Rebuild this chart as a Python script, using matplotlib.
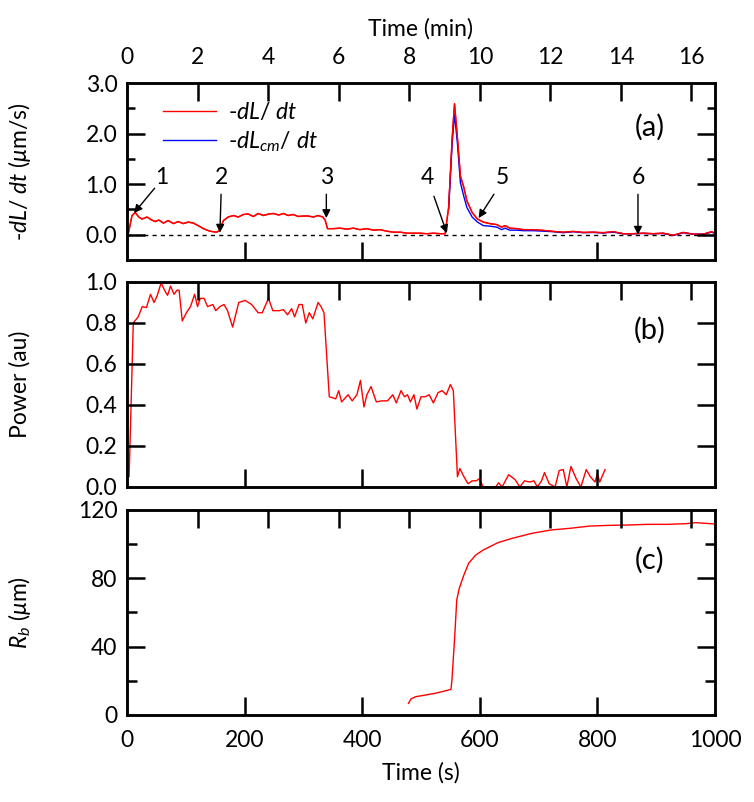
import numpy as np
import matplotlib
matplotlib.use('Agg')
import matplotlib.pyplot as plt
from matplotlib.ticker import MultipleLocator, FormatStrFormatter

plt.rcParams['font.family'] = ['Lato', 'DejaVu Sans']
plt.rcParams['mathtext.fontset'] = 'custom'
plt.rcParams['mathtext.rm'] = 'Lato'
plt.rcParams['mathtext.it'] = 'Lato:italic'

# panel (a): -dL/dt (um/s) vs time (s)
t_dl = [0, 8.5, 14, 20, 25.5, 34, 42, 48, 54, 62, 70, 79, 87, 96, 104, 113, 121, 130, 141,
        152, 157, 164, 172, 181, 189, 198, 206, 215, 223, 232, 241, 249, 258, 266, 274,
        283, 291, 300, 308, 317, 325, 333, 337, 341, 351, 362, 374, 385, 396, 408, 419,
        430, 442, 453, 465, 476, 487, 498, 510, 521, 533, 541, 547, 553, 557, 562, 567,
        573, 578, 587, 596, 606, 617, 629, 637, 643, 651, 663, 674, 691, 708, 725, 742,
        759, 776, 793, 810, 827, 844, 861, 878, 895, 912, 929, 946, 963, 980, 994, 1000]
dl = [-0.11, 0.38, 0.44, 0.35, 0.31, 0.35, 0.29, 0.26, 0.29, 0.23, 0.28, 0.22, 0.26, 0.22,
      0.25, 0.23, 0.18, 0.12, 0.07, 0.05, 0.08, 0.28, 0.35, 0.38, 0.35, 0.40, 0.41, 0.36,
      0.42, 0.38, 0.41, 0.42, 0.39, 0.42, 0.38, 0.40, 0.36, 0.37, 0.37, 0.35, 0.38, 0.35,
      0.29, 0.12, 0.12, 0.13, 0.11, 0.13, 0.10, 0.12, 0.09, 0.10, 0.07, 0.05, 0.05, 0.03,
      0.03, 0.03, 0.02, 0.03, 0.02, 0.02, 0.54, 1.91, 2.59, 1.91, 1.16, 0.93, 0.67, 0.44,
      0.31, 0.25, 0.22, 0.20, 0.15, 0.18, 0.13, 0.12, 0.10, 0.10, 0.085, 0.065, 0.05,
      0.065, 0.045, 0.05, 0.04, 0.06, 0.02, 0.02, 0.03, 0.02, 0.03, -0.01, 0.045, 0.01,
      0.01, 0.06, 0.03]

t_dlcm = [547, 553, 557, 562, 567, 573, 578, 587, 596, 606, 617, 629, 637, 643, 651, 663,
          674, 691, 708, 725, 742, 759, 776, 793, 810, 827, 844, 861, 878, 895, 912, 929,
          946, 963, 980, 994, 1000]
dlcm = [0.50, 1.80, 2.38, 1.80, 1.03, 0.75, 0.54, 0.35, 0.25, 0.18, 0.17, 0.15, 0.10, 0.13,
        0.09, 0.09, 0.08, 0.08, 0.07, 0.06, 0.04, 0.06, 0.04, 0.045, 0.035, 0.05, 0.02,
        0.02, 0.025, 0.02, 0.025, -0.015, 0.04, 0.01, 0.01, 0.05, 0.03]

# panel (b): power (au)
t_pw = [0, 3.6, 10.7, 19, 26, 33, 40, 46, 51, 58, 65.6, 69, 74, 80, 85, 88.6, 94, 101, 108,
        115, 120, 124.6, 131, 137, 146, 151, 158, 165, 171, 179.6, 190, 201, 212, 223, 230,
        240.6, 248, 259, 266, 273, 280, 285, 292.6, 298, 304, 310, 316, 325, 330, 335, 344,
        355, 360, 365, 376, 383, 391, 397, 403, 408, 415, 424, 433, 443, 452, 458, 466, 472,
        477, 482, 488, 493, 500, 507, 514, 521, 529, 536, 543, 550, 555, 562, 566, 573, 580,
        587, 594, 599, 606, 617, 627, 632, 638, 649, 660, 668, 676, 685, 692, 698, 705, 710,
        718, 728, 735, 742, 748, 755, 764, 772, 781, 788, 796, 800, 804, 813]
pw = [0.05, 0.05, 0.80, 0.83, 0.88, 0.875, 0.94, 0.90, 0.93, 0.995, 0.95, 0.935, 0.98, 0.94,
      0.96, 0.96, 0.81, 0.85, 0.88, 0.94, 0.88, 0.92, 0.92, 0.88, 0.89, 0.86, 0.88, 0.89,
      0.86, 0.78, 0.90, 0.91, 0.89, 0.85, 0.85, 0.92, 0.86, 0.86, 0.865, 0.84, 0.87, 0.83,
      0.89, 0.89, 0.80, 0.85, 0.82, 0.90, 0.88, 0.85, 0.44, 0.43, 0.47, 0.415, 0.45, 0.42,
      0.45, 0.52, 0.39, 0.45, 0.49, 0.415, 0.42, 0.42, 0.45, 0.41, 0.47, 0.44, 0.45, 0.415,
      0.45, 0.38, 0.44, 0.44, 0.45, 0.41, 0.46, 0.47, 0.45, 0.50, 0.47, 0.05, 0.09, 0.05,
      0.016, 0.03, 0.03, 0.04, 0.0, 0.0, 0.0, 0.02, 0.0, 0.06, 0.036, 0.0, 0.03, 0.024, 0.03,
      0.0, 0.03, 0.07, 0.016, 0.0, 0.08, 0.085, 0.0, 0.10, 0.04, 0.0, 0.085, 0.05, 0.024,
      0.065, 0.024, 0.085]

# panel (c): Rb (um)
t_rb = [478.6, 483, 491, 508, 524, 540, 551, 552.6, 557, 560.8, 565, 573, 581, 593, 606,
        631, 655, 688, 721, 754, 787, 820, 852.6, 885, 918, 951, 968, 984, 1000]
rb = [6.8, 9.4, 10.7, 11.7, 12.7, 14.0, 15.0, 20.5, 43.9, 67.3, 74.1, 82, 88.8, 93.6, 96.6,
      100.9, 103.4, 106.3, 108.3, 109.3, 110.6, 111, 111.2, 111.6, 111.6, 112, 112.6, 112.2,
      111.8]

# arrows in (a): label, text x, arrow start (x, y), tip (x, y)
marks = ['1', '2', '3', '4', '5', '6']
mark_tx = [59, 160, 339, 511, 639, 869]
mark_start = [(47, 0.92), (160, 0.80), (339, 0.80), (522, 0.76), (624, 0.80), (869, 0.80)]
mark_tip = [(12, 0.43), (158, 0.04), (339, 0.33), (544, 0.03), (598, 0.33), (869, 0.0)]

fs = 16.5
lw_ax = 1.8
major_len = 13
minor_lens = [6, 7, 7]
red = '#ff0000'
blue = '#0000ff'

fig = plt.figure(figsize=(7.54, 8.02), dpi=100)
left, width = 127 / 754, 588 / 754
ax_a = fig.add_axes([left, 0.6758, width, 0.2207])
ax_b = fig.add_axes([left, 0.3928, width, 0.2556])
ax_c = fig.add_axes([left, 0.1085, width, 0.2556])
axes = [ax_a, ax_b, ax_c]
tops = []
for ax in axes:
    ax.set_xlim(0, 1000)
    ax.xaxis.set_major_locator(MultipleLocator(200))
    top = ax.twiny()
    top.set_xlim(0, 1000 / 60)
    top.xaxis.set_major_locator(MultipleLocator(2))
    tops.append(top)
    ax.yaxis.set_label_coords(-0.183, 0.5)

# (a)
ax_a.plot(t_dl, dl, color=red, lw=1.0, label=r'-$dL$/ $dt$')
ax_a.plot(t_dlcm, dlcm, color=blue, lw=1.0, label=r'-$dL_{cm}$/ $dt$')
ax_a.axhline(0, color='k', lw=1.0, ls=(0, (3, 3)))
ax_a.plot(t_dl, dl, color=red, lw=1.0)
ax_a.set_ylim(-0.5, 3.0)
ax_a.set_yticks([0, 1, 2, 3])
ax_a.set_yticklabels(['0.0', '1.0', '2.0', '3.0'])
ax_a.yaxis.set_minor_locator(MultipleLocator(0.5))
ax_a.set_ylabel(r'-$dL$/ $dt$ ($\mu$m/s)', fontsize=fs, va='center')
ax_a.legend(loc='upper left', bbox_to_anchor=(0.062, 0.897), frameon=False, fontsize=fs,
            handlelength=2.3, handletextpad=0.5, labelspacing=0.25, borderpad=0,
            borderaxespad=0)
ax_a.text(0.889, 0.75, '(a)', transform=ax_a.transAxes, fontsize=21, ha='center',
          va='center')
for m, tx, st, tip in zip(marks, mark_tx, mark_start, mark_tip):
    ax_a.text(tx, 1.14, m, fontsize=fs, ha='center', va='center')
    ax_a.annotate('', xy=tip, xytext=st,
                  arrowprops=dict(arrowstyle='-|>', color='k', lw=1.0,
                                  mutation_scale=12, shrinkA=0, shrinkB=0))

# (b)
ax_b.plot(t_pw, pw, color=red, lw=1.0)
ax_b.set_ylim(0, 1.0)
ax_b.yaxis.set_major_locator(MultipleLocator(0.2))
ax_b.yaxis.set_major_formatter(FormatStrFormatter('%.1f'))
ax_b.set_ylabel('Power (au)', fontsize=fs, va='center')
ax_b.text(0.889, 0.766, '(b)', transform=ax_b.transAxes, fontsize=21, ha='center',
          va='center')

# (c)
ax_c.plot(t_rb, rb, color=red, lw=1.0)
ax_c.set_ylim(0, 120)
ax_c.yaxis.set_major_locator(MultipleLocator(40))
ax_c.yaxis.set_minor_locator(MultipleLocator(20))
ax_c.set_ylabel(r'$R_b$ ($\mu$m)', fontsize=fs, va='center')
ax_c.text(0.889, 0.756, '(c)', transform=ax_c.transAxes, fontsize=21, ha='center',
          va='center')

# labels and spines; tick marks themselves are drawn as lines below
for i, (ax, top) in enumerate(zip(axes, tops)):
    for s in list(ax.spines.values()) + list(top.spines.values()):
        s.set_linewidth(lw_ax)
    ax.tick_params(axis='y', which='both', direction='in', length=0, labelsize=fs, pad=7)
    ax.tick_params(axis='x', which='both', direction='in', length=0,
                   labelbottom=(i == 2), labelsize=fs, pad=11)
    top.tick_params(axis='x', which='both', direction='in', length=0,
                    labeltop=(i == 0), labelsize=fs, pad=11)

tops[0].set_xlabel('Time (min)', fontsize=fs, labelpad=8)
ax_c.set_xlabel('Time (s)', fontsize=fs, labelpad=8)

# inward tick marks from each axis' locators (Igor style, all four sides)
for i, (ax, top) in enumerate(zip(axes, tops)):
    fx = major_len / 72 * fig.dpi / ax.bbox.width
    fy = major_len / 72 * fig.dpi / ax.bbox.height
    fxm = minor_lens[i] / 72 * fig.dpi / ax.bbox.width
    y0, y1 = ax.get_ylim()
    ytr = ax.get_yaxis_transform()
    for locs, f in ((ax.get_yticks(), fx), (ax.yaxis.get_minorticklocs(), fxm)):
        for v in locs:
            if y0 + 1e-9 < v < y1 - 1e-9:
                for xs in ([0, f], [1 - f, 1]):
                    ax.plot(xs, [v, v], transform=ytr, color='k', lw=lw_ax,
                            solid_capstyle='butt', clip_on=False, zorder=3)
    for v in ax.get_xticks():
        if 0 < v < 1000:
            ax.plot([v, v], [0, fy], transform=ax.get_xaxis_transform(), color='k',
                    lw=lw_ax, solid_capstyle='butt', clip_on=False, zorder=3)
    for v in top.get_xticks():
        if 0 < v < 1000 / 60:
            top.plot([v, v], [1 - fy, 1], transform=top.get_xaxis_transform(),
                     color='k', lw=lw_ax, solid_capstyle='butt', clip_on=False, zorder=3)

fig.savefig('out.png', dpi=100)
